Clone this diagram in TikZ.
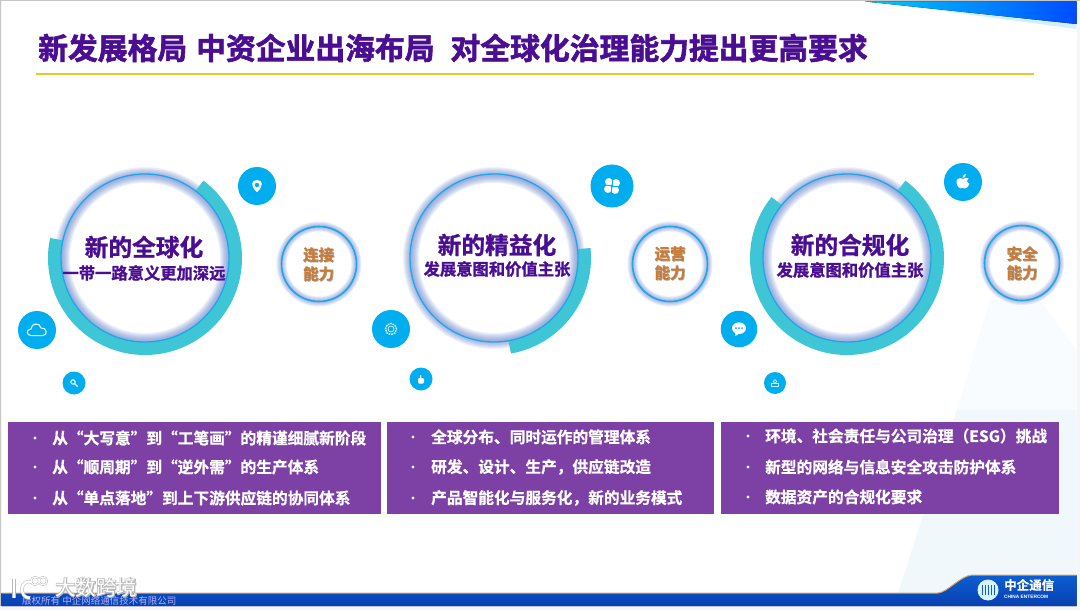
\documentclass[tikz,border=0pt]{standalone}
\usepackage{fontspec}
\usepackage{xcolor}
\usetikzlibrary{positioning,calc}
\setmainfont{Liberation Sans}
\newfontfamily\cjkfont[FakeBold=1.2]{Noto Sans CJK SC Bold}
\newfontfamily\cjktitle[FakeBold=2]{Noto Sans CJK SC Bold}
\newfontfamily\cjkplain[FakeBold=.6]{Noto Sans CJK SC Bold}
\newfontfamily\cjkthin{Noto Sans CJK SC}
\newfontfamily\cjkoutline[FakeBold=5]{Noto Sans CJK SC Bold}
\definecolor{titlepurple}{HTML}{4A0E92}
\definecolor{panelpurple}{HTML}{7D41A6}
\definecolor{iconblue}{HTML}{00AEEF}
\definecolor{ringblue}{HTML}{1EA6E8}
\definecolor{glowblue}{HTML}{4F74C8}
\definecolor{arcteal}{HTML}{3EC6D6}
\definecolor{skillorange}{HTML}{C97B38}
\definecolor{rulegold}{HTML}{F2C327}
\definecolor{barblue}{HTML}{0A5FD2}
\definecolor{bardark}{HTML}{0A3FB0}
\definecolor{barorange}{HTML}{E8A45A}
\definecolor{facetlow}{HTML}{F1F8FC}
\definecolor{facethigh}{HTML}{F9FCFE}
\newcommand{\fsize}[1]{\fontsize{#1}{#1}\selectfont}
\newcommand{\shadowed}[2]{\rlap{\textcolor{#1}{\kern.7pt\raisebox{-.7pt}{#2}}}#2}
\newcommand{\outlined}[2]{\rlap{\textcolor{#1}{\cjkoutline #2}}#2}
\begin{document}
\begin{tikzpicture}[
  x=1pt, y=-1pt,
  bigring/.style={circle, draw=ringblue, line width=1.3pt, minimum size=168pt, inner sep=0pt},
  smallring/.style={circle, draw=ringblue, line width=1.6pt, minimum size=75pt, inner sep=0pt},
  tealarc/.style={draw=arcteal, line width=13pt},
  iconbig/.style={circle, fill=iconblue, minimum size=38pt, inner sep=0pt},
  iconsmall/.style={circle, fill=iconblue, minimum size=23pt, inner sep=0pt},
  headline/.style={font=\cjkfont\fsize{23.7}, text=titlepurple, inner sep=0pt},
  subline/.style={font=\cjkfont\fsize{16.3}, text=titlepurple, inner sep=0pt},
  skilltext/.style={font=\cjkplain\fsize{15.5}, text=skillorange, inner sep=0pt},
  panelbox/.style={fill=panelpurple, anchor=north west, minimum height=92.5pt, inner sep=0pt},
  itemtext/.style={font=\cjkplain\fsize{15.7}, text=white, anchor=west, inner sep=0pt},
  dotmark/.style={circle, fill=white, minimum size=3.4pt, inner sep=0pt},
  glyph/.style={draw=white, fill=none, line width=1pt},
  solidglyph/.style={fill=white},
]
  \useasboundingbox (0,0) rectangle (1080,610);
  \fill[white!93!gray] (0,0) rectangle (1080,610);
  \fill[white] (1.5,1.5) rectangle (1076.5,606);
  \fill[gray!45] (0,0) rectangle (1080,1.2);
  \fill[gray!45] (0,0) rectangle (1.2,606);

  % pale facets, lower right
  \fill[facethigh] (990,300) -- (957,410) -- (1076.5,410) -- (1076.5,350) -- (1040,300) -- cycle;
  \fill[facetlow] (957,410) -- (898,593) -- (1076.5,593) -- (1076.5,410) -- cycle;

  % top right wedge
  \fill[cyan!18] (872,1.5) -- (1076.5,29) -- (1076.5,1.5) -- cycle;
  \fill[left color=cyan!80!blue, right color=blue!70!cyan] (865,1.5) -- (1076.5,24) -- (1076.5,1.5) -- cycle;

  % title
  \node[font=\cjktitle\fsize{29.8}, text=titlepurple, anchor=west, inner sep=0pt] (title) at (38,48)
    {新发展格局\hspace{9pt}中资企业出海布局\hspace{16pt}对全球化治理能力提出更高要求};
  \coordinate (ruleL) at (36,74.5);
  \coordinate (ruleR) at (1034,74.5);
  \draw[rulegold, line width=2pt] (ruleL) -- (ruleR);

  % soft glow round every ring
  \foreach \cx/\cy/\r in {145/258/84, 494/258/84, 847/258/84} {
    \foreach \w in {2,4,...,16}
      \draw[glowblue, opacity=.09, line width=\w pt] (\cx,\cy) circle[radius=83pt];
  }
  \foreach \cx/\cy/\r in {319/264/37.5, 670/264/37.5, 1022/263/37} {
    \foreach \w in {2,4,...,10}
      \draw[glowblue, opacity=.12, line width=\w pt] (\cx,\cy) circle[radius=\r pt];
  }

  % teal arcs
  \draw[tealarc] (145,258) ++(-53:90.5) arc[start angle=-53, end angle=192, radius=90.5];
  \draw[tealarc] (494,258) ++(-6:90.5) arc[start angle=-6, end angle=80, radius=90.5];
  \draw[tealarc] (847,258) ++(-53:90.5) arc[start angle=-53, end angle=219, radius=90.5];

  % main rings
  \node[bigring] (globalring) at (145,258) {};
  \node[bigring] (leanring) at (494,258) {};
  \node[bigring] (compliancering) at (847,258) {};
  \node[headline] (globalhead) at (144,247) {新的全球化};
  \node[subline] (globalsub) at (144,273) {一带一路意义更加深远};
  \node[headline] (leanhead) at (497,245) {新的精益化};
  \node[subline] (leansub) at (497,269) {发展意图和价值主张};
  \node[headline] (compliancehead) at (850,245) {新的合规化};
  \node[subline] (compliancesub) at (850,270) {发展意图和价值主张};

  % small rings
  \node[smallring] (linkring) at (319,264) {};
  \node[smallring] (opsring) at (670,264) {};
  \node[smallring] (safering) at (1022,263) {};
  \node[skilltext] (linktop) at (318.5,255) {\shadowed{gray!70}{连接}};
  \node[skilltext] (linkbot) at (318.5,274) {\shadowed{gray!70}{能力}};
  \node[skilltext] (opstop) at (670,254) {\shadowed{gray!70}{运营}};
  \node[skilltext] (opsbot) at (670,273) {\shadowed{gray!70}{能力}};
  \node[skilltext] (safetop) at (1022,254) {\shadowed{gray!70}{安全}};
  \node[skilltext] (safebot) at (1022,273) {\shadowed{gray!70}{能力}};

  % icon discs
  \node[iconbig] (pin) at (257,186) {};
  \node[iconbig] (cloud) at (37,330) {};
  \node[iconsmall] (search) at (74,383) {};
  \node[iconbig, minimum size=43pt] (clover) at (612,186) {};
  \node[iconbig] (gear) at (391,329) {};
  \node[iconsmall] (hand) at (421,379) {};
  \node[iconbig] (apple) at (963,182) {};
  \node[iconbig, minimum size=36.5pt] (chat) at (739,329) {};
  \node[iconsmall, minimum size=22pt] (person) at (775,383) {};

  % icon glyphs
  \begin{scope}[shift={(pin)}]
    \fill[white] (0,6) .. controls (-7,0) and (-6,-6) .. (0,-6) .. controls (6,-6) and (7,0) .. (0,6);
    \fill[iconblue] (0,-1) circle[radius=2.2pt];
  \end{scope}
  \begin{scope}[shift={(cloud)}]
    \draw[glyph] (-6,5.5) .. controls (-11,5.5) and (-11,-1) .. (-6,-1) .. controls (-6,-7) and (3,-8) .. (4,-2) .. controls (10,-3) and (11,5.5) .. (6,5.5) -- cycle;
  \end{scope}
  \begin{scope}[shift={(search)}]
    \draw[glyph] (-1,-1) circle[radius=2.2pt];
    \draw[white, line width=1.4pt] (.6,.6) -- (3.5,3.5);
  \end{scope}
  \begin{scope}[shift={(clover)}, rotate=-8]
    \foreach \sx/\sy in {-3.6/-3.6, 3.6/-3.6, -3.6/3.6, 3.6/3.6}
      \fill[solidglyph] (\sx,\sy) circle[radius=3.9pt];
    \draw[iconblue, line width=.8pt] (-8,0) -- (8,0) (0,-8) -- (0,8);
  \end{scope}
  \begin{scope}[shift={(gear)}]
    \draw[white, line width=1.3pt, dash pattern=on 1.6pt off 1pt] (0,0) circle[radius=5.6pt];
    \draw[white, line width=.6pt] (0,0) circle[radius=3pt];
  \end{scope}
  \begin{scope}[shift={(hand)}]
    \fill[solidglyph, rounded corners=1.2pt] (-3,-1) rectangle (3,4.5);
    \fill[solidglyph, rounded corners=.6pt] (-1.2,-4) rectangle (.4,0);
  \end{scope}
  \begin{scope}[shift={(apple)}]
    \fill[solidglyph] (0,-3) .. controls (-3,-5) and (-7.5,-3.5) .. (-6.5,1) .. controls (-6,4) and (-3.5,7.5) .. (0,6) .. controls (3,7.5) and (5,5) .. (6.5,2) .. controls (3,0) and (3.5,-3) .. (5.5,-3.5) .. controls (4,-5) and (2,-4) .. (0,-3);
    \fill[solidglyph] (-.5,-4) .. controls (-.5,-7) and (1.5,-8) .. (3,-8) .. controls (3,-6) and (1.5,-4) .. (-.5,-4);
  \end{scope}
  \begin{scope}[shift={(chat)}]
    \fill[solidglyph] (0,-.8) ellipse[x radius=7pt, y radius=5.8pt];
    \fill[solidglyph] (-4,3) -- (-3.5,7) -- (1,4) -- cycle;
    \foreach \sx in {-3,0,3}
      \fill[iconblue] (\sx,-.8) circle[radius=1pt];
  \end{scope}
  \begin{scope}[shift={(person)}]
    \draw[white!80!iconblue, line width=.7pt] (0,-1.5) circle[radius=1.8pt];
    \draw[white!80!iconblue, line width=.7pt] (-3.5,.8) rectangle (3.5,3.5);
  \end{scope}

  % panels
  \node[panelbox, minimum width=373pt] (panelA) at (7.5,421.5) {};
  \node[panelbox, minimum width=327pt] (panelB) at (387,421.5) {};
  \node[panelbox, minimum width=338.5pt] (panelC) at (720.5,421.5) {};

  \foreach \n/\y/\t in {1/438/从“大写意”到“工笔画”的精谨细腻新阶段,
                        2/467/从“顺周期”到“逆外需”的生产体系,
                        3/498/从“单点落地”到上下游供应链的协同体系} {
    \node[dotmark] (dotA\n) at (35,\y) {};
    \node[itemtext] (itemA\n) at (52,\y) {\t};
  }
  \foreach \n/\y/\t in {1/437/全球分布、同时运作的管理体系,
                        2/467/研发、设计、生产，供应链改造,
                        3/498/产品智能化与服务化，新的业务模式} {
    \node[dotmark] (dotB\n) at (413,\y) {};
    \node[itemtext] (itemB\n) at (431,\y) {\t};
  }
  \foreach \n/\y/\t in {1/436/环境、社会责任与公司治理（ESG）挑战,
                        2/467/新型的网络与信息安全攻击防护体系,
                        3/497/数据资产的合规化要求} {
    \node[dotmark] (dotC\n) at (748,\y) {};
    \node[itemtext] (itemC\n) at (765,\y) {\t};
  }

  % bottom bar
  \fill[top color=barblue, bottom color=bardark] (1.5,593) -- (938,593) .. controls (948,592) and (960,576) .. (972,575) -- (1076.5,575) -- (1076.5,606) -- (1.5,606) -- cycle;
  \draw[barorange, line width=1pt] (1.5,593) -- (938,593) .. controls (948,592) and (960,576) .. (972,575) -- (1076.5,575);
  \node[font=\cjkthin\fsize{9.5}, text=white!70!blue, anchor=west, inner sep=0pt] (copyright) at (22,601) {版权所有 中企网络通信技术有限公司};

  % company mark
  \node[circle, fill=white!85!cyan, minimum size=21pt, inner sep=0pt] (logo) at (988,590) {};
  \foreach \sx in {-6,-3,0,3,6}
    \draw[barblue, line width=1pt] ([xshift=\sx pt,yshift=-5pt]logo.center) -- ([xshift=\sx pt,yshift=5pt]logo.center);
  \node[font=\cjkplain\fsize{12.5}, text=white, anchor=west, inner sep=0pt] (logoname) at (1004,585) {中企通信};
  \node[font=\bfseries\fsize{4.8}, text=white, anchor=west, inner sep=0pt] (logoen) at (1004,597) {CHINA ENTERCOM};

  % watermark
  \node[font=\cjkthin\fsize{20.5}, text=white, anchor=west, inner sep=0pt] (mark) at (55,587.5) {\outlined{gray!55}{大数跨境}};
  \draw[gray!55, line width=3.6pt] (14,579) -- (14,598);
  \draw[gray!55, line width=3.4pt] (32,582) .. controls (20,578) and (18,598) .. (30,598);
  \draw[gray!55, line width=2pt] (35,581) circle[radius=4pt] (43,581) circle[radius=4pt];
  \draw[white, line width=2.6pt] (14,579) -- (14,598);
  \draw[white, line width=2.4pt] (32,582) .. controls (20,578) and (18,598) .. (30,598);
  \draw[white, line width=1pt] (35,581) circle[radius=4pt] (43,581) circle[radius=4pt];
\end{tikzpicture}
\end{document}
